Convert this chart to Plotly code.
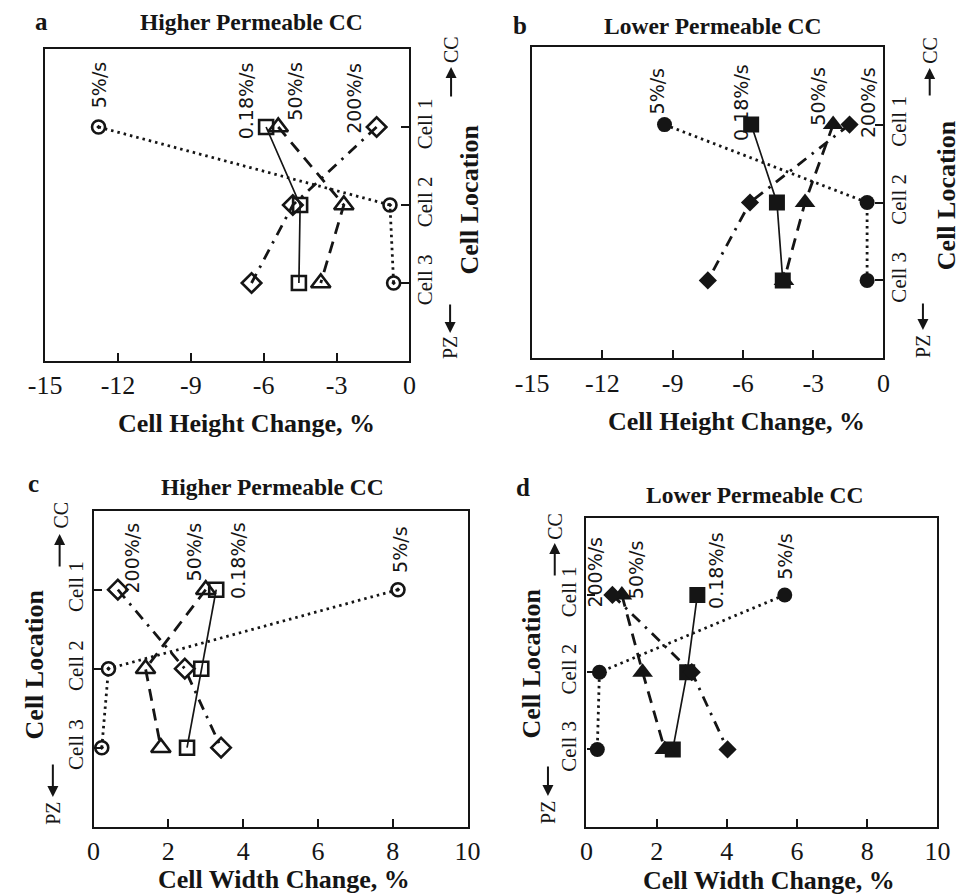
import plotly.graph_objects as go

# ---- data -------------------------------------------------------------
cell_pos = [1, 2, 3]
cell_labels = ["Cell 1", "Cell 2", "Cell 3"]

height_ticks = [-15, -12, -9, -6, -3, 0]
height_tick_text = ["-15", "-12", "-9", "-6", "-3", "0"]
width_ticks = [0, 2, 4, 6, 8, 10]
width_tick_text = ["0", "2", "4", "6", "8", "10"]

rate_names = ["0.18%/s", "5%/s", "50%/s", "200%/s"]

# (a) cell height change, higher permeable CC
a_rate_018 = [-5.9, -4.5, -4.55]
a_rate_5 = [-12.8, -0.8, -0.65]
a_rate_50 = [-5.4, -2.7, -3.65]
a_rate_200 = [-1.35, -4.8, -6.5]

# (b) cell height change, lower permeable CC
b_rate_018 = [-5.65, -4.55, -4.3]
b_rate_5 = [-9.35, -0.7, -0.7]
b_rate_50 = [-2.15, -3.35, -4.25]
b_rate_200 = [-1.45, -5.7, -7.5]

# (c) cell width change, higher permeable CC
c_rate_018 = [3.28, 2.88, 2.5]
c_rate_5 = [8.14, 0.4, 0.22]
c_rate_50 = [3.0, 1.39, 1.8]
c_rate_200 = [0.65, 2.44, 3.41]

# (d) cell width change, lower permeable CC
d_rate_018 = [3.16, 2.87, 2.46]
d_rate_5 = [5.65, 0.37, 0.31]
d_rate_50 = [1.01, 1.6, 2.23]
d_rate_200 = [0.74, 3.0, 4.02]

# ---- styling ----------------------------------------------------------
W, H = 965, 896
SERIF = "Liberation Serif"
SANS = "DejaVu Sans"
INK = "#151515"


def px(x):
    return x / W


def py(y):
    return 1 - y / H


line_style = {
    "0.18%/s": dict(dash="solid", width=1.7),
    "5%/s": dict(dash="2.5px,4px", width=2.8),
    "50%/s": dict(dash="12px,8px", width=2.8),
    "200%/s": dict(dash="11px,7px,2.5px,7px", width=2.8),
}
open_marker = {
    "0.18%/s": dict(symbol="square-open", size=14),
    "5%/s": dict(symbol="circle-open-dot", size=13),
    "50%/s": dict(symbol="triangle-up-open", size=17),
    "200%/s": dict(symbol="diamond-open", size=15),
}
filled_marker = {
    "0.18%/s": dict(symbol="square", size=16),
    "5%/s": dict(symbol="circle", size=15),
    "50%/s": dict(symbol="triangle-up", size=18),
    "200%/s": dict(symbol="diamond", size=14),
}

# panel boxes in pixels: left, right, top, bottom
boxes = {
    "a": (29, 405, 49, 361),
    "b": (531.7, 894.3, 46.7, 358.3),
    "c": (79, 465, 510.7, 826.7),
    "d": (587.7, 950, 517.7, 826.7),
}

panels = [
    # key, axis suffix, series, filled?, y side
    ("a", "", {"0.18%/s": a_rate_018, "5%/s": a_rate_5, "50%/s": a_rate_50, "200%/s": a_rate_200}, False, "right"),
    ("b", "2", {"0.18%/s": b_rate_018, "5%/s": b_rate_5, "50%/s": b_rate_50, "200%/s": b_rate_200}, True, "right"),
    ("c", "3", {"0.18%/s": c_rate_018, "5%/s": c_rate_5, "50%/s": c_rate_50, "200%/s": c_rate_200}, False, "left"),
    ("d", "4", {"0.18%/s": d_rate_018, "5%/s": d_rate_5, "50%/s": d_rate_50, "200%/s": d_rate_200}, True, "left"),
]

# rate label placement: pixel shift from the Cell 1 marker, and top of the label (cell units)
label_place = {
    "a": {"5%/s": (0, 0.15), "0.18%/s": (-20, 0.15), "50%/s": (17, 0.14), "200%/s": (-22, 0.15)},
    "b": {"5%/s": (-8, 0.26), "0.18%/s": (-10, 0.2), "50%/s": (-16, 0.235), "200%/s": (18, 0.235)},
    "c": {"5%/s": (2, 0.18), "0.18%/s": (21, 0.12), "50%/s": (-12, 0.12), "200%/s": (14, 0.12)},
    "d": {"5%/s": (0, 0.185), "0.18%/s": (18, 0.16), "50%/s": (14, 0.26), "200%/s": (-17, 0.22)},
}

fig = go.Figure()
annotations = []
layout = {}

for key, sfx, series, filled, yside in panels:
    xa, ya = "x" + sfx, "y" + sfx
    for name in rate_names:
        mk = dict(filled_marker[name] if filled else open_marker[name])
        if filled:
            mk.update(color=INK, line=dict(width=0))
        else:
            mk.update(color=INK, line=dict(width=2.6, color=INK))
        fig.add_trace(go.Scatter(
            x=series[name], y=cell_pos, xaxis=xa, yaxis=ya,
            mode="lines+markers", name=name, showlegend=False,
            line=dict(color=INK, **line_style[name]), marker=mk,
        ))
        dx, ytop = label_place[key][name]
        annotations.append(dict(
            x=series[name][0], y=ytop, xref=xa, yref=ya, xshift=dx,
            text=name, textangle=-90, showarrow=False,
            xanchor="center", yanchor="top",
            font=dict(family=SANS, size=19, color=INK),
        ))

    l, r, t, b = boxes[key]
    is_height = key in ("a", "b")
    layout["xaxis" + sfx] = dict(
        domain=[px(l), px(r)], anchor=ya,
        range=[-15, 0] if is_height else [0, 10],
        tickvals=height_ticks if is_height else width_ticks,
        ticktext=height_tick_text if is_height else width_tick_text,
        ticks="inside", ticklen=8, tickwidth=2, tickcolor=INK,
        showline=True, linewidth=2.2, linecolor=INK, mirror=True,
        showgrid=False, zeroline=False,
        tickfont=dict(family=SERIF, size=26, color=INK),
    )
    layout["yaxis" + sfx] = dict(
        domain=[py(b), py(t)], anchor=xa, side=yside,
        range=[4, 0], tickvals=cell_pos, ticktext=cell_labels,
        tickangle=-90, ticks="inside", ticklen=8, tickwidth=2, tickcolor=INK,
        ticklabelstandoff=-5 if yside == "right" else 0,
        showline=True, linewidth=2.2, linecolor=INK, mirror=True,
        showgrid=False, zeroline=False,
        tickfont=dict(family=SERIF, size=21, color=INK),
    )


def text(x, y, s, size, bold=False, angle=0, family=SERIF):
    annotations.append(dict(
        x=px(x), y=py(y), xref="paper", yref="paper",
        text="<b>%s</b>" % s if bold else s, textangle=angle, showarrow=False,
        xanchor="center", yanchor="middle",
        font=dict(family=family, size=size, color=INK),
    ))


def arrow(x, y_tail, y_head):
    # vertical arrow drawn from tail to head (pixel positions)
    annotations.append(dict(
        x=px(x), y=py(y_head), xref="paper", yref="paper",
        ax=0, ay=y_tail - y_head, axref="pixel", ayref="pixel",
        text="", showarrow=True, arrowhead=2, arrowsize=1.1,
        arrowwidth=2, arrowcolor=INK, standoff=0, startstandoff=0,
    ))


# panel letters and titles
text(25, 22, "a", 25, bold=True)
text(242, 22, "Higher Permeable CC", 23.5, bold=True)
text(519, 26, "b", 25, bold=True)
text(718, 26, "Lower Permeable CC", 23.5, bold=True)
text(17, 483, "c", 25, bold=True)
text(264, 487, "Higher Permeable CC", 23.5, bold=True)
text(522, 488, "d", 25, bold=True)
text(762, 495, "Lower Permeable CC", 23.5, bold=True)

# x-axis titles
text(237, 423, "Cell Height Change, %", 26, bold=True)
text(743, 422, "Cell Height Change, %", 26, bold=True)
text(276, 879, "Cell Width Change, %", 26, bold=True)
text(776, 880, "Cell Width Change, %", 26, bold=True)

# cell location titles and direction arrows
text(466, 200, "Cell Location", 26, bold=True, angle=-90)
text(448, 50, "CC", 20, angle=-90)
arrow(448, 98, 67)
text(447, 348, "PZ", 20, angle=-90)
arrow(447, 303, 333)

text(959, 195, "Cell Location", 26, bold=True, angle=-90)
text(942, 50, "CC", 20, angle=-90)
arrow(942, 97, 68)
text(935, 346, "PZ", 20, angle=-90)
arrow(935, 302, 330)

text(18, 664, "Cell Location", 26, bold=True, angle=-90)
text(45, 515, "CC", 20, angle=-90)
arrow(44, 568, 534)
text(37, 813, "PZ", 20, angle=-90)
arrow(37, 763, 797)

text(530, 664, "Cell Location", 26, bold=True, angle=-90)
text(555, 526, "CC", 20, angle=-90)
arrow(555, 577, 543)
text(548, 812, "PZ", 20, angle=-90)
arrow(548, 765, 796)

fig.update_layout(
    width=W, height=H,
    margin=dict(l=0, r=0, t=0, b=0),
    paper_bgcolor="white", plot_bgcolor="white",
    annotations=annotations,
    **layout,
)

fig.write_html("out.html")
